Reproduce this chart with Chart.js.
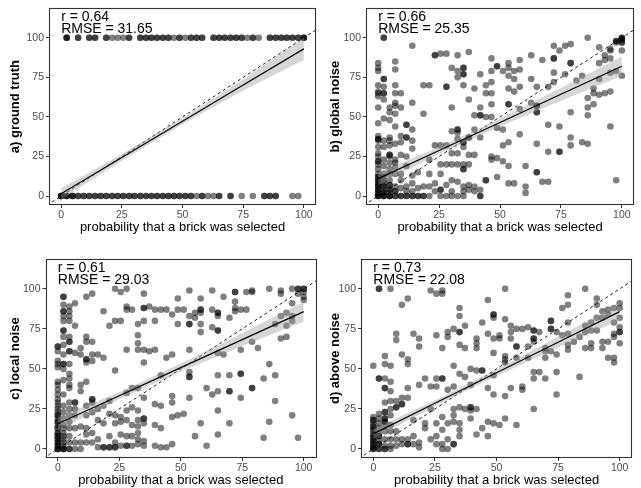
<!DOCTYPE html>
<html>
<head>
<meta charset="utf-8">
<script src="https://cdn.jsdelivr.net/npm/chart.js@4.4.1/dist/chart.umd.min.js"></script>
<style>
  html, body { margin: 0; padding: 0; background: #fff; }
  body { width: 641px; height: 488px; position: relative; overflow: hidden; }
  canvas { position: absolute; }
</style>
</head>
<body>
<canvas id="panelA" width="320" height="244" style="left:0;top:0"></canvas>
<canvas id="panelB" width="321" height="244" style="left:320px;top:0"></canvas>
<canvas id="panelC" width="320" height="244" style="left:0;top:244px"></canvas>
<canvas id="panelD" width="321" height="244" style="left:320px;top:244px"></canvas>
<script>
// tick labels shared by every panel
const tickValues = [0, 25, 50, 75, 100];
const xTitle = 'probability that a brick was selected';

// regression line + confidence band, read at these x positions
const fitX = [0, 25, 50, 75, 100];

// a) ground truth: x of bricks that were (100) / were not (0) in the truth
const truthHitX = [2.3, 2.3, 2.3, 7, 7, 11.6, 11.6, 14, 14, 18.6, 18.6, 21, 23.3, 25.6, 28, 28,
  32.6, 32.6, 35, 35, 37.2, 37.2, 39.5, 39.5, 41.9, 41.9, 44.2, 44.2, 46.5, 48.8, 48.8, 51.2,
  53.5, 53.5, 55.8, 55.8, 58.1, 58.1, 62.8, 62.8, 65.1, 65.1, 67.4, 67.4, 69.8, 69.8, 72.1, 72.1,
  74.4, 74.4, 76.7, 79, 79, 81.4, 86, 86, 88.4, 88.4, 90.7, 90.7, 93, 93, 95.3, 95.3, 97.7, 97.7,
  100, 100, 100];
const truthMissX = [0, 0, 0, 0, 2.3, 2.3, 2.3, 4.7, 4.7, 4.7, 7, 7, 9.3, 9.3, 11.6, 11.6, 14, 14,
  16.3, 16.3, 18.6, 18.6, 21, 21, 23.3, 23.3, 25.6, 25.6, 28, 28, 30.2, 30.2, 32.6, 32.6, 35, 35,
  37.2, 37.2, 39.5, 39.5, 41.9, 41.9, 44.2, 44.2, 46.5, 46.5, 48.8, 48.8, 51.2, 51.2, 53.5, 53.5,
  55.8, 58.1, 58.1, 60.5, 62.8, 65.1, 65.1, 69.8, 69.8, 74.4, 79, 83.7, 83.7, 86, 86, 88.4, 88.4,
  95.3, 97.7];
const truthFit = [1.5, 24.4, 47.3, 70.2, 93];
const truthLow = [-2, 22.3, 45.3, 66.7, 86];
const truthHigh = [5, 26.5, 49.3, 73.7, 100];

// b) global noise
const globalPts = [
  [0,84],[0,81],[0,79],[0,70],[0,66],[0,65],[0,63],[0,56],[0,46],[0,38],[0,36],[0,36],[0,35],[0,31],[0,27],[0,25],[0,22],[0,22],[0,20],[0,17],[0,14],[0,12],[0,12],[0,10],[0,10],[0,8],[0,8],[0,6],[0,6],[0,4],[0,4],[0,2],[0,2],[0,0],[0,0],[0,0],
  [2.3,100],[2.3,100],[2.3,74],[2.3,74],[2.3,69],[2.3,65],[2.3,65],[2.3,61],[2.3,49],[2.3,35],[2.3,31],[2.3,23],[2.3,19],[2.3,14],[2.3,12],[2.3,10],[2.3,8],[2.3,6],[2.3,6],[2.3,4],[2.3,2],[2.3,2],[2.3,0],[2.3,0],[2.3,0],
  [4.7,56],[4.7,53],[4.7,48],[4.7,37],[4.7,35],[4.7,32],[4.7,26],[4.7,26],[4.7,25],[4.7,21],[4.7,17],[4.7,14],[4.7,10],[4.7,7],[4.7,7],[4.7,4],[4.7,4],[4.7,2],[4.7,0],[4.7,0],[4.7,0],
  [7,85],[7,80],[7,70],[7,65],[7,59],[7,57],[7,52],[7,44],[7,33],[7,23],[7,21],[7,18],[7,14],[7,6],[7,3],[7,3],[7,0],[7,0],
  [9.3,65],[9.3,56],[9.3,38],[9.3,34],[9.3,26],[9.3,14],[9.3,10],[9.3,5],[9.3,0],[9.3,0],
  [11.6,45],[11.6,45],[11.6,37],[11.6,37],[11.6,25],[11.6,19],[11.6,6],[11.6,3],[11.6,0],[11.6,0],
  [14,95],[14,59],[14,42],[14,35],[14,30],[14,13],[14,8],[14,3],[14,0],[14,0],
  [16.3,15],[16.3,5],[16.3,0],[16.3,0],
  [18.6,70],[18.6,52],[18.6,6],[18.6,0],[18.6,0],
  [21,70],[21,23],[21,14],[21,6],[21,0],
  [23.3,89],[23.3,89],[23.3,32],[23.3,8],[23.3,3],
  [25.6,90],[25.6,32],[25.6,20],[25.6,14],[25.6,4],[25.6,4],[25.6,0],
  [28,90],[28,69],[28,69],[28,32],[28,20],[28,7],[28,0],
  [30.2,81],[30.2,56],[30.2,41],[30.2,27],[30.2,20],[30.2,10],[30.2,3],[30.2,0],
  [32.6,89],[32.6,79],[32.6,75],[32.6,42],[32.6,42],[32.6,40],[32.6,36],[32.6,27],[32.6,20],[32.6,9],[32.6,0],
  [35,81],[35,81],[35,77],[35,77],[35,70],[35,34],[35,34],[35,31],[35,20],[35,17],[35,17],[35,6],[35,3],[35,0],
  [37.2,91],[37.2,61],[37.2,37],[37.2,37],[37.2,26],[37.2,20],[37.2,7],[37.2,4],
  [39.5,68],[39.5,51],[39.5,42],[39.5,26],[39.5,6],[39.5,3],
  [41.9,77],[41.9,56],[41.9,51],[41.9,51],[41.9,37],[41.9,4],[41.9,0],[41.9,0],
  [44.2,70],[44.2,65],[44.2,50],[44.2,10],[44.2,10],
  [46.5,87],[46.5,79],[46.5,72],[46.5,65],[46.5,58],[46.5,50],[46.5,25],[46.5,23],
  [48.8,82],[48.8,82],[48.8,43],[48.8,24],[48.8,12],
  [51.2,79],[51.2,42],[51.2,32],[51.2,22],
  [53.5,84],[53.5,81],[53.5,76],[53.5,68],[53.5,58],[53.5,58],[53.5,34],[53.5,19],[53.5,8],
  [55.8,79],[55.8,74],[55.8,66],[55.8,8],
  [58.1,86],[58.1,80],[58.1,69],[58.1,55],[58.1,39],
  [60.5,19],[60.5,6],[60.5,2],
  [62.8,89],[62.8,74],[62.8,59],
  [65.1,69],[65.1,57],[65.1,57],[65.1,53],[65.1,53],[65.1,33],[65.1,15],[65.1,15],
  [67.4,86],[67.4,9],
  [69.8,69],[69.8,45],[69.8,28],[69.8,9],
  [72.1,95],[72.1,87],[72.1,87],[72.1,78],[72.1,72],
  [74.4,92],[74.4,44],[74.4,28],[74.4,28],
  [76.7,95],[76.7,77],
  [79,96],[79,84],[79,84],[79,53],[79,37],[79,32],
  [81.4,73],
  [83.7,76],[83.7,34],
  [86,100],[86,62],[86,56],[86,51],[86,33],
  [88.4,68],[88.4,65],[88.4,58],
  [90.7,94],[90.7,84],[90.7,74],[90.7,64],
  [93,89],[93,86],[93,65],
  [95.3,93],[95.3,92],[95.3,87],[95.3,78],[95.3,66],[95.3,44],
  [97.7,98],[97.7,98],[97.7,97],[97.7,79],[97.7,10],
  [100,100],[100,100],[100,99],[100,99],[100,97],[100,97],[100,92],[100,76]
];
const globalFit = [11, 28.8, 46.5, 64.3, 82];
const globalLow = [7, 26.8, 44, 60.3, 75.8];
const globalHigh = [15, 30.8, 49, 68.3, 88.2];

// c) local noise
const localPts = [
  [0,64],[0,64],[0,61],[0,55],[0,53],[0,51],[0,42],[0,40],[0,37],[0,34],[0,31],[0,29],[0,27],[0,25],[0,23],[0,21],[0,21],[0,19],[0,17],[0,17],[0,15],[0,13],[0,13],[0,10],[0,10],[0,8],[0,8],[0,6],[0,6],[0,4],[0,4],[0,2],[0,2],[0,0],[0,0],[0,0],
  [2.3,95],[2.3,95],[2.3,90],[2.3,86],[2.3,86],[2.3,83],[2.3,80],[2.3,74],[2.3,74],[2.3,70],[2.3,65],[2.3,59],[2.3,53],[2.3,53],[2.3,50],[2.3,43],[2.3,34],[2.3,27],[2.3,23],[2.3,19],[2.3,15],[2.3,13],[2.3,10],[2.3,8],[2.3,6],[2.3,4],[2.3,2],[2.3,0],[2.3,0],[2.3,0],
  [4.7,89],[4.7,86],[4.7,83],[4.7,80],[4.7,70],[4.7,67],[4.7,67],[4.7,61],[4.7,61],[4.7,53],[4.7,47],[4.7,44],[4.7,40],[4.7,38],[4.7,29],[4.7,25],[4.7,21],[4.7,17],[4.7,13],[4.7,8],[4.7,4],[4.7,0],[4.7,0],
  [7,91],[7,77],[7,60],[7,29],[7,29],[7,25],[7,21],[7,13],[7,4],[7,0],
  [9.3,63],[9.3,59],[9.3,40],[9.3,36],[9.3,14],[9.3,4],[9.3,0],
  [11.6,95],[11.6,70],[11.6,67],[11.6,56],[11.6,56],[11.6,54],[11.6,42],[11.6,27],[11.6,21],[11.6,13],[11.6,9],[11.6,4],
  [14,97],[14,67],[14,59],[14,55],[14,31],[14,31],[14,29],[14,23],[14,10],[14,4],
  [16.3,59],[16.3,25],[16.3,18],[16.3,6],[16.3,1],
  [18.6,86],[18.6,57],[18.6,27],[18.6,16],[18.6,1],[18.6,1],
  [21,77],[21,30],[21,22],[21,8],[21,1],[21,1],
  [23.3,100],[23.3,80],[23.3,49],[23.3,21],[23.3,16],[23.3,4],[23.3,1],[23.3,1],
  [25.6,98],[25.6,80],[25.6,20],[25.6,17],[25.6,9],[25.6,2],
  [28,100],[28,89],[28,87],[28,62],[28,35],[28,24],[28,18],[28,8],[28,2],[28,2],
  [30.2,87],[30.2,38],[30.2,26],[30.2,15],[30.2,8],[30.2,2],
  [32.6,78],[32.6,71],[32.6,66],[32.6,62],[32.6,38],[32.6,24],[32.6,18],[32.6,14],[32.6,10],[32.6,6],[32.6,3],
  [35,97],[35,88],[35,88],[35,80],[35,62],[35,54],[35,32],[35,19],[35,19],[35,16],[35,5],[35,2],
  [37.2,89],[37.2,61],
  [39.5,87],[39.5,80],[39.5,62],[39.5,28],[39.5,15],[39.5,2],
  [41.9,87],[41.9,46],[41.9,27],[41.9,13],[41.9,1],
  [44.2,87],[44.2,57],[44.2,1],
  [46.5,84],[46.5,59],[46.5,33],[46.5,29],[46.5,20],[46.5,3],
  [48.8,94],[48.8,87],[48.8,78],[48.8,21],
  [51.2,87],[51.2,22],
  [53.5,99],[53.5,83],[53.5,78],[53.5,78],[53.5,62],[53.5,48],[53.5,45],[53.5,45],[53.5,32],
  [55.8,85],[55.8,82],[55.8,8],
  [58.1,94],[58.1,87],[58.1,87],[58.1,85],[58.1,78],[58.1,73],[58.1,16],
  [60.5,38],[60.5,2],
  [62.8,99],[62.8,87],[62.8,76],[62.8,34],
  [65.1,85],[65.1,85],[65.1,83],[65.1,74],[65.1,74],[65.1,60],[65.1,46],[65.1,36],[65.1,24],[65.1,9],
  [67.4,95],[67.4,59],
  [69.8,82],[69.8,46],[69.8,36],[69.8,36],[69.8,16],
  [72.1,98],[72.1,98],[72.1,92],[72.1,88],[72.1,86],
  [74.4,87],[74.4,62],[74.4,47],[74.4,47],[74.4,32],
  [76.7,98],[76.7,87],
  [79,99],[79,98],[79,67],[79,38],[79,38],
  [81.4,63],
  [83.7,44],[83.7,7],
  [86,100],[86,53],[86,17],
  [88.4,78],[88.4,46],[88.4,30],
  [90.7,99],[90.7,97],[90.7,83],[90.7,69],
  [93,85],[93,77],[93,70],
  [95.3,100],[95.3,91],[95.3,83],[95.3,80],[95.3,21],
  [97.7,100],[97.7,100],[97.7,97],[97.7,7],
  [100,100],[100,100],[100,98],[100,95],[100,93]
];
const localFit = [15.7, 33.2, 50.8, 68.3, 85.8];
const localLow = [11.5, 31, 48.3, 64.3, 79.5];
const localHigh = [19.9, 35.4, 53.3, 72.3, 92];

// d) above noise
const abovePts = [
  [0,52],[0,20],[0,18],[0,18],[0,16],[0,14],[0,14],[0,12],[0,12],[0,9],[0,9],[0,7],[0,7],[0,5],[0,5],[0,3],[0,3],[0,1],[0,1],[0,0],[0,0],
  [2.3,100],[2.3,100],[2.3,44],[2.3,44],[2.3,22],[2.3,19],[2.3,16],[2.3,13],[2.3,10],[2.3,8],[2.3,8],[2.3,5],[2.3,3],[2.3,3],[2.3,0],[2.3,0],
  [4.7,58],[4.7,53],[4.7,44],[4.7,38],[4.7,38],[4.7,29],[4.7,23],[4.7,23],[4.7,19],[4.7,19],[4.7,17],[4.7,17],[4.7,14],[4.7,11],[4.7,6],[4.7,2],[4.7,0],[4.7,0],
  [7,100],[7,52],[7,42],[7,36],[7,30],[7,25],[7,21],[7,15],[7,11],[7,6],[7,2],[7,0],
  [9.3,72],[9.3,68],[9.3,30],[9.3,26],[9.3,26],[9.3,11],[9.3,6],[9.3,2],
  [11.6,90],[11.6,59],[11.6,32],[11.6,28],[11.6,28],[11.6,6],[11.6,3],
  [14,94],[14,56],[14,53],[14,38],[14,32],[14,6],[14,3],[14,3],
  [16.3,72],[16.3,18],[16.3,8],[16.3,3],
  [18.6,69],[18.6,64],[18.6,40],[18.6,4],[18.6,1],
  [21,44],[21,16],[21,13],
  [23.3,99],[23.3,39],[23.3,25],[23.3,6],
  [25.6,97],[25.6,71],[25.6,44],[25.6,39],[25.6,16],[25.6,8],[25.6,3],
  [28,99],[28,97],[28,63],[28,44],[28,44],[28,20],[28,12],[28,3],[28,0],
  [30.2,73],[30.2,70],[30.2,37],[30.2,16],[30.2,6],[30.2,0],
  [32.6,75],[32.6,52],[32.6,39],[32.6,25],[32.6,21],[32.6,17],[32.6,3],[32.6,3],
  [35,88],[35,83],[35,73],[35,73],[35,65],[35,47],[35,26],[35,16],[35,12],[35,8],
  [37.2,77],[37.2,63],[37.2,45],[37.2,25],
  [39.5,50],[39.5,40],[39.5,26],[39.5,26],[39.5,24],[39.5,19],
  [41.9,69],[41.9,66],[41.9,63],[41.9,49],[41.9,25],[41.9,9],
  [44.2,79],[44.2,49],[44.2,49],[44.2,13],
  [46.5,93],[46.5,72],[46.5,38],[46.5,17],[46.5,8],
  [48.8,84],[48.8,84],[48.8,82],[48.8,69],[48.8,60],[48.8,46],[48.8,34],[48.8,16],
  [51.2,71],[51.2,69],[51.2,15],
  [53.5,100],[53.5,81],[53.5,58],[53.5,56],[53.5,54],[53.5,33],[53.5,19],
  [55.8,77],[55.8,73],[55.8,69],[55.8,38],
  [58.1,75],[58.1,64],[58.1,64],[58.1,57],[58.1,15],
  [60.5,75],[60.5,39],[60.5,37],
  [62.8,76],[62.8,64],[62.8,57],
  [65.1,74],[65.1,74],[65.1,69],[65.1,69],[65.1,67],[65.1,48],[65.1,44],[65.1,25],
  [67.4,73],[67.4,48],
  [69.8,63],[69.8,61],[69.8,57],[69.8,44],
  [72.1,80],[72.1,80],[72.1,75],[72.1,75],[72.1,61],
  [74.4,73],[74.4,59],[74.4,48],[74.4,34],
  [76.7,88],[76.7,71],
  [79,96],[79,90],[79,79],[79,72],[79,65],[79,62],
  [81.4,67],
  [83.7,70],[83.7,45],
  [86,100],[86,77],[86,73],[86,63],
  [88.4,79],[88.4,74],[88.4,66],[88.4,63],
  [90.7,94],[90.7,90],[90.7,82],[90.7,74],
  [93,86],[93,82],[93,67],[93,63],
  [95.3,87],[95.3,84],[95.3,67],[95.3,57],
  [97.7,88],[97.7,79],[97.7,72],[97.7,70],[97.7,57],[97.7,54],
  [100,91],[100,88],[100,82],[100,76],[100,73],[100,73],[100,66]
];
const aboveFit = [9.4, 28.5, 47.6, 66.7, 85.8];
const aboveLow = [6.3, 26.6, 45.6, 63.3, 80.6];
const aboveHigh = [12.5, 30.4, 49.6, 70.1, 91];

const FONT = "'Liberation Sans', Arial, Helvetica, sans-serif";

// border round the plotting area, like ggplot's panel.border
const framePlugin = {
  id: 'frame',
  afterDatasetsDraw(chart) {
    const a = chart.chartArea;
    const ctx = chart.ctx;
    ctx.save();
    ctx.strokeStyle = '#333333';
    ctx.lineWidth = 1.1;
    ctx.strokeRect(Math.round(a.left) + 0.5, Math.round(a.top) + 0.5,
      Math.round(a.right - a.left) - 1, Math.round(a.bottom - a.top) - 1);
    ctx.restore();
  }
};

// r / RMSE text in the top left corner
const notesPlugin = {
  id: 'notes',
  afterDatasetsDraw(chart, args, opts) {
    const ctx = chart.ctx;
    const xs = chart.scales.x, ys = chart.scales.y;
    ctx.save();
    ctx.fillStyle = '#000';
    ctx.font = '14px ' + FONT;
    ctx.textAlign = 'left';
    ctx.textBaseline = 'middle';
    ctx.fillText(opts.lines[0], xs.getPixelForValue(0), ys.getPixelForValue(113));
    ctx.fillText(opts.lines[1], xs.getPixelForValue(0), ys.getPixelForValue(105.3));
    ctx.restore();
  }
};

function toXY(xs, ys) {
  return xs.map((x, i) => ({ x: x, y: ys[i] }));
}

function drawPanel(id, p) {
  const ctx = document.getElementById(id).getContext('2d');
  return new Chart(ctx, {
    type: 'scatter',
    data: {
      datasets: [
        { data: toXY(fitX, p.fit), showLine: true, borderColor: '#000', borderWidth: 1.2,
          pointRadius: 0, order: 0 },
        { data: toXY(fitX, p.high), showLine: true, borderColor: 'transparent', borderWidth: 0,
          pointRadius: 0, fill: false, order: 1 },
        { data: toXY(fitX, p.low), showLine: true, borderColor: 'transparent', borderWidth: 0,
          pointRadius: 0, fill: '-1', backgroundColor: 'rgba(153,153,153,0.4)', order: 1 },
        { data: [{ x: -10, y: -10 }, { x: 110, y: 110 }], showLine: true, borderColor: '#000',
          borderWidth: 0.9, borderDash: [3, 3], pointRadius: 0, order: 2 },
        { data: p.points.map(d => ({ x: d[0], y: d[1] })), pointRadius: 3.3,
          backgroundColor: 'rgba(0,0,0,0.5)', borderWidth: 0, order: 3 }
      ]
    },
    options: {
      responsive: false,
      animation: false,
      events: [],
      layout: { padding: p.pad },
      plugins: {
        legend: { display: false },
        tooltip: { enabled: false },
        notes: { lines: ['r = ' + p.r, 'RMSE = ' + p.rmse] }
      },
      scales: {
        x: {
          type: 'linear', min: -5, max: 105,
          afterBuildTicks: s => { s.ticks = tickValues.map(v => ({ value: v })); },
          afterFit: s => { s.height = p.xh; },
          ticks: { color: '#4d4d4d', font: { family: FONT, size: 10.5 }, padding: 1,
            autoSkip: false, maxRotation: 0, callback: v => String(v) },
          grid: { drawOnChartArea: false, drawTicks: true, tickLength: 3, color: '#333333' },
          border: { display: false },
          title: { display: true, text: xTitle, color: '#000',
            font: { family: FONT, size: 13 }, padding: { top: 0, bottom: p.xtp } }
        },
        y: {
          type: 'linear', min: -5.65, max: 118.65,
          afterBuildTicks: s => { s.ticks = tickValues.map(v => ({ value: v })); },
          afterFit: s => { s.width = p.yw; },
          ticks: { color: '#4d4d4d', font: { family: FONT, size: 10.5 }, padding: 2,
            autoSkip: false, callback: v => String(v) },
          grid: { drawOnChartArea: false, drawTicks: true, tickLength: 3, color: '#333333' },
          border: { display: false },
          title: { display: true, text: p.yTitle, color: '#000',
            font: { family: FONT, size: 13, weight: 'bold' }, padding: { top: 8, bottom: 0 } }
        }
      }
    },
    plugins: [framePlugin, notesPlugin]
  });
}

const truthPts = truthHitX.map(x => [x, 100]).concat(truthMissX.map(x => [x, 0]));

drawPanel('panelA', { points: truthPts, fit: truthFit, low: truthLow, high: truthHigh,
  r: '0.64', rmse: '31.65', yTitle: 'a) ground truth',
  pad: { top: 4, right: 3, bottom: 0, left: 0 }, yw: 49, xh: 39, xtp: 9 });
drawPanel('panelB', { points: globalPts, fit: globalFit, low: globalLow, high: globalHigh,
  r: '0.66', rmse: '25.35', yTitle: 'b) global noise',
  pad: { top: 4, right: 7, bottom: 0, left: 0 }, yw: 46, xh: 39, xtp: 9 });
drawPanel('panelC', { points: localPts, fit: localFit, low: localLow, high: localHigh,
  r: '0.61', rmse: '29.03', yTitle: 'c) local noise',
  pad: { top: 15, right: 4, bottom: 0, left: 0 }, yw: 45.5, xh: 30, xtp: 0 });
drawPanel('panelD', { points: abovePts, fit: aboveFit, low: aboveLow, high: aboveHigh,
  r: '0.73', rmse: '22.08', yTitle: 'd) above noise',
  pad: { top: 15, right: 9, bottom: 0, left: 0 }, yw: 41, xh: 30, xtp: 0 });
</script>
</body>
</html>
